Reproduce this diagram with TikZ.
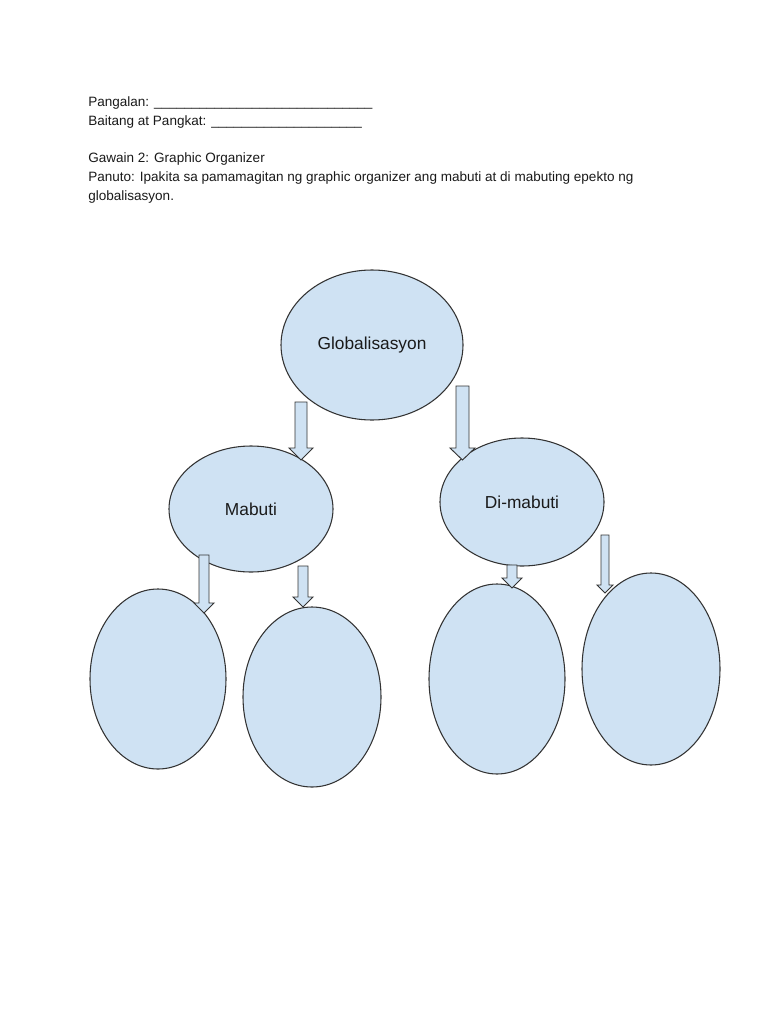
\documentclass[tikz,border=0pt]{standalone}
\usepackage{fontspec}
\setmainfont{Liberation Sans}
\usetikzlibrary{shapes.geometric}
\definecolor{bubble}{HTML}{CFE2F3}
\definecolor{edge}{HTML}{333333}
\definecolor{labeltext}{HTML}{1A1A1A}
\newcommand{\blockarrow}[6]{%
  \draw[arrowshape] (#1-#5,#2) -- (#1+#5,#2) -- (#1+#5,#3) -- (#1+#6,#3) -- (#1,#4)
    -- (#1-#6,#3) -- (#1-#5,#3) -- cycle;}
\begin{document}
\begin{tikzpicture}[x=0.75pt,y=-0.75pt,
  bubblestyle/.style={ellipse,draw=edge,fill=bubble,line width=0.8pt,inner sep=0pt,text=labeltext,font=\fontsize{13}{15}\selectfont},
  arrowshape/.style={draw=edge,fill=bubble,line width=0.7pt,line join=miter},
  hdr/.style={anchor=base west,inner sep=0pt,text=labeltext,font=\fontsize{10.15}{12}\selectfont}]
\useasboundingbox[fill=white] (0,0) rectangle (768,1024);
% header
\node[hdr] (t1) at (88,106) {Pangalan: \_\_\_\_\_\_\_\_\_\_\_\_\_\_\_\_\_\_\_\_\_\_\_\_\_\_\_\_\_};
\node[hdr] (t2) at (88,125) {Baitang at Pangkat: \_\_\_\_\_\_\_\_\_\_\_\_\_\_\_\_\_\_\_\_};
\node[hdr] (t3) at (88,162) {Gawain 2: Graphic Organizer};
\node[hdr] (t4) at (88,181) {Panuto: Ipakita sa pamamagitan ng graphic organizer ang mabuti at di mabuting epekto ng};
\node[hdr] (t5) at (88,200) {globalisasyon.};
% ellipses
\node[bubblestyle,minimum width=136.5pt,minimum height=112.5pt] (glob) at (372,345) {Globalisasyon};
\node[bubblestyle,minimum width=123pt,minimum height=94.5pt] (mab) at (251,509) {Mabuti};
\node[bubblestyle,minimum width=123pt,minimum height=96pt] (dimab) at (522,502) {Di-mabuti};
\node[bubblestyle,minimum width=102pt,minimum height=135pt] (l1) at (158,679) {};
\node[bubblestyle,minimum width=103.5pt,minimum height=135pt] (l2) at (312,697) {};
\node[bubblestyle,minimum width=102pt,minimum height=142.5pt] (l3) at (497,679) {};
\node[bubblestyle,minimum width=103.5pt,minimum height=144pt] (l4) at (651,669) {};
% block arrows
\blockarrow{301}{402}{448}{460}{6}{12}
\blockarrow{462.5}{386}{448}{460}{6.5}{12.5}
\blockarrow{204}{555}{603}{613}{5}{10}
\blockarrow{303}{566}{597}{607}{5}{10}
\blockarrow{512}{565}{578}{588}{5}{10}
\blockarrow{605}{535}{585}{593}{4}{8}
\end{tikzpicture}
\end{document}
